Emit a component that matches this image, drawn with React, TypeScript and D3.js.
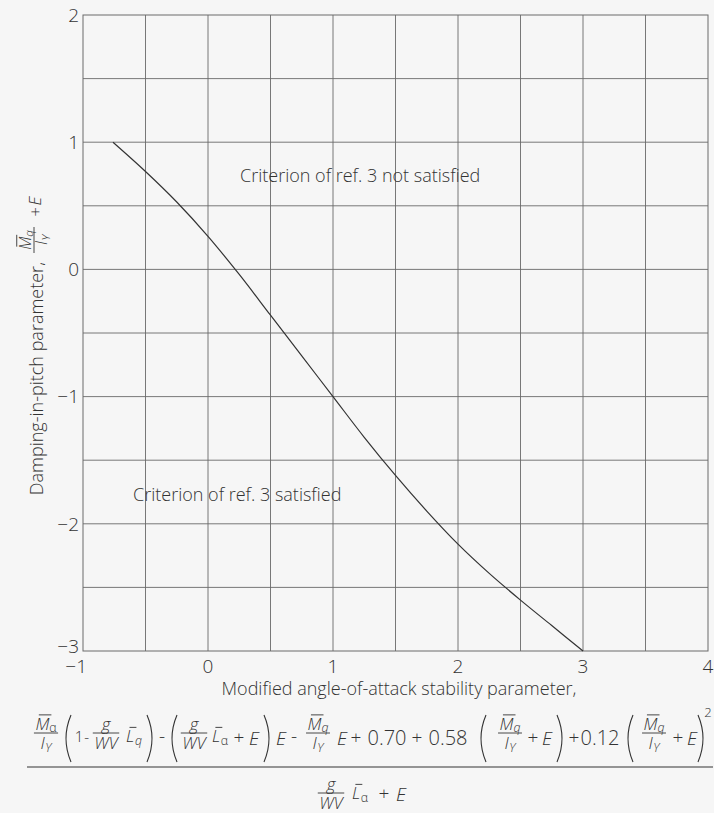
import React from 'react';
import * as d3 from 'd3';

const WIDTH = 714;
const HEIGHT = 813;

const xTickValues = [-1, 0, 1, 2, 3, 4];
const xTickLabels = ['−1', '0', '1', '2', '3', '4'];
const yTickValues = [-3, -2, -1, 0, 1, 2];
const yTickLabels = ['−3', '−2', '−1', '0', '1', '2'];
const xGridValues = [-0.5, 0, 0.5, 1, 1.5, 2, 2.5, 3, 3.5];
const yGridValues = [-2.5, -2, -1.5, -1, -0.5, 0, 0.5, 1, 1.5];

const curveX = [-0.76, -0.5, -0.25, 0, 0.25, 0.5, 0.75, 1, 1.25, 1.5, 1.75, 2, 2.25, 2.5, 2.75, 3];
const curveY = [1, 0.77, 0.53, 0.26, -0.04, -0.36, -0.68, -1, -1.32, -1.62, -1.9, -2.16, -2.39, -2.6, -2.8, -3];

const labelNotSatisfied = 'Criterion of ref. 3 not satisfied';
const labelSatisfied = 'Criterion of ref. 3 satisfied';
const xTitle = 'Modified angle-of-attack stability parameter,';
const yTitle = 'Damping-in-pitch parameter,';

const FONT_NAME = 'Open Sans';
const FONT = "'Open Sans', 'DejaVu Sans', sans-serif";
const WEIGHT = 300;
const INK = '#333333';
const GRID = '#6a6a6a';
const BG = '#f6f6f6';

let ctx: CanvasRenderingContext2D | null = null;
function measure(s: string, size: number, it = false): number {
  if (!ctx) {
    const c = document.createElement('canvas');
    ctx = c.getContext('2d');
  }
  if (!ctx) return s.length * size * 0.55;
  ctx.font = `${it ? 'italic ' : ''}${WEIGHT} ${size}px "${FONT_NAME}"`;
  return ctx.measureText(s).width;
}

type Piece = { s: string; size: number; it?: boolean; dy?: number; bar?: boolean; gap?: number };

function pieceWidth(p: Piece) {
  return measure(p.s, p.size, p.it) + (p.gap || 0);
}
function rowWidth(ps: Piece[]) {
  return ps.reduce((a, p) => a + pieceWidth(p), 0);
}

function Row({ x, y, pieces, anchor = 'middle' }: { x: number; y: number; pieces: Piece[]; anchor?: string }) {
  const total = rowWidth(pieces);
  let cx = anchor === 'middle' ? x - total / 2 : anchor === 'end' ? x - total : x;
  return (
    <g>
      {pieces.map((p, i) => {
        const px = cx;
        const w = measure(p.s, p.size, p.it);
        cx += pieceWidth(p);
        const by = y + (p.dy || 0);
        return (
          <g key={i}>
            <text
              x={px}
              y={by}
              fontSize={p.size}
              fontFamily={FONT}
              fontWeight={WEIGHT}
              fontStyle={p.it ? 'italic' : 'normal'}
              fill={INK}
            >
              {p.s}
            </text>
            {p.bar && (
              <line
                x1={px + p.size * 0.2}
                x2={px + w + p.size * 0.12}
                y1={by - p.size * 0.86}
                y2={by - p.size * 0.86}
                stroke={INK}
                strokeWidth={0.9}
              />
            )}
          </g>
        );
      })}
    </g>
  );
}

const FS = 17; // fraction part size
const MS = 19; // main size

const Mbar = (sub: string, s = FS): Piece[] => [
  { s: 'M', size: s, it: true, bar: true, gap: 0 },
  { s: sub, size: s * 0.72, it: sub === 'q', dy: s * 0.16 },
];
const IY = (s = FS): Piece[] => [
  { s: 'I', size: s, it: true, gap: 0.5 },
  { s: 'Y', size: s * 0.72, it: true, dy: s * 0.2 },
];
const Lbar = (sub: string, s = FS): Piece[] => [
  { s: 'L', size: s, it: true, bar: true, gap: 0.5 },
  { s: sub, size: s * 0.72, it: sub === 'q', dy: s * 0.16 },
];
const G = (s = FS): Piece[] => [{ s: 'g', size: s, it: true }];
const WV = (s = FS): Piece[] => [{ s: 'WV', size: s, it: true }];

function Frac({ cx, lineY, num, den, size = FS }: { cx: number; lineY: number; num: Piece[]; den: Piece[]; size?: number }) {
  const w = Math.max(rowWidth(num), rowWidth(den)) + 3;
  return (
    <g>
      <Row x={cx} y={lineY - 3.5} pieces={num} />
      <line x1={cx - w / 2} x2={cx + w / 2} y1={lineY} y2={lineY} stroke={INK} strokeWidth={0.9} />
      <Row x={cx} y={lineY + size * 0.72 + 3.5} pieces={den} />
    </g>
  );
}

function Paren({ x, left, top, bottom }: { x: number; left: boolean; top: number; bottom: number }) {
  const mid = (top + bottom) / 2;
  const d = left
    ? `M${x + 4},${top} Q${x - 6},${mid} ${x + 4},${bottom}`
    : `M${x - 4},${top} Q${x + 6},${mid} ${x - 4},${bottom}`;
  return <path d={d} fill="none" stroke={INK} strokeWidth={1.1} />;
}

const t = (s: string, size = MS, extra: Partial<Piece> = {}): Piece => ({ s, size, ...extra });

export default function App() {
  const left = 83, right = 708, top = 15, bottom = 651;
  const x = d3.scaleLinear().domain([-1, 4]).range([left, right]);
  const y = d3.scaleLinear().domain([-3, 2]).range([bottom, top]);
  const pts = curveX.map((v, i) => [v, curveY[i]] as [number, number]);
  const line = d3
    .line<[number, number]>()
    .x((d) => x(d[0]))
    .y((d) => y(d[1]))
    .curve(d3.curveCatmullRom.alpha(0.5));

  const NB = 745; // numerator main baseline
  const FL = 733; // numerator fraction line
  const PT = 715, PB = 762;
  const DB = 801;
  const DFL = 793;

  return (
    <svg
      width={WIDTH}
      height={HEIGHT}
      style={{ position: 'absolute', left: 0, top: 0, display: 'block' }}
      fontFamily={FONT}
    >
      <rect x={0} y={0} width={WIDTH} height={HEIGHT} fill={BG} />
      {xGridValues.map((v) => (
        <line key={'gx' + v} x1={x(v)} x2={x(v)} y1={top} y2={bottom} stroke={GRID} strokeWidth={0.9} />
      ))}
      {yGridValues.map((v) => (
        <line key={'gy' + v} x1={left} x2={right} y1={y(v)} y2={y(v)} stroke={GRID} strokeWidth={0.9} />
      ))}
      <rect x={left} y={top} width={right - left} height={bottom - top} fill="none" stroke={GRID} strokeWidth={1} />

      <path d={line(pts) || ''} fill="none" stroke={INK} strokeWidth={1.2} />

      {yTickValues.map((v, i) => (
        <text
          key={'yt' + v}
          x={79}
          y={y(v)}
          dy={v === -3 ? '0.12em' : '0.36em'}
          textAnchor="end"
          fontSize={19}
          fontWeight={WEIGHT}
          fill={INK}
        >
          {yTickLabels[i]}
        </text>
      ))}
      {xTickValues.map((v, i) => (
        <text
          key={'xt' + v}
          x={v < 0 ? x(v) + 4 : x(v)}
          y={673}
          textAnchor={v < 0 ? 'end' : 'middle'}
          fontSize={19}
          fontWeight={WEIGHT}
          fill={INK}
        >
          {xTickLabels[i]}
        </text>
      ))}

      <text x={x(0.256)} y={y(0.69)} fontSize={18} fontWeight={WEIGHT} fill={INK}>
        {labelNotSatisfied}
      </text>
      <text x={x(-0.6)} y={y(-1.82)} fontSize={18} fontWeight={WEIGHT} fill={INK}>
        {labelSatisfied}
      </text>

      <g transform="translate(43,0) rotate(-90)">
        <text x={-262} y={0} textAnchor="end" fontSize={18} fontWeight={WEIGHT} fill={INK}>
          {yTitle}
        </text>
        <Row x={-240} y={-12.5} pieces={Mbar('q', 16)} />
        <line x1={-253} x2={-227} y1={-9} y2={-9} stroke={INK} strokeWidth={0.9} />
        <Row x={-240} y={4} pieces={IY(16)} />
        <Row x={-212} y={-2} pieces={[t('+', 17)]} />
        <Row x={-201} y={-2} pieces={[t('E', 17, { it: true })]} />
      </g>

      <text x={399} y={695} textAnchor="middle" fontSize={18} fontWeight={WEIGHT} fill={INK}>
        {xTitle}
      </text>

      {/* numerator */}
      <Frac cx={46} lineY={FL} num={Mbar('α')} den={IY()} />
      <Paren x={67} left top={PT} bottom={PB} />
      <Row x={82} y={NB - 3} pieces={[t('1', 15, { gap: 1 }), t('-', 15)]} />
      <Frac cx={106} lineY={FL} num={G()} den={WV()} />
      <Row x={134} y={NB - 3} pieces={Lbar('q')} />
      <Paren x={151} left={false} top={PT} bottom={PB} />
      <Row x={162} y={NB - 2} pieces={[t('-', MS)]} />
      <Paren x={173} left top={PT} bottom={PB} />
      <Frac cx={194} lineY={FL} num={G()} den={WV()} />
      <Row x={220} y={NB - 3} pieces={Lbar('α')} />
      <Row x={239} y={NB - 1} pieces={[t('+', MS)]} />
      <Row x={254} y={NB} pieces={[t('E', MS, { it: true })]} />
      <Paren x={268} left={false} top={PT} bottom={PB} />
      <Row x={281} y={NB} pieces={[t('E', MS, { it: true })]} />
      <Row x={294} y={NB - 2} pieces={[t('-', MS)]} />
      <Frac cx={318} lineY={FL} num={Mbar('q')} den={IY()} />
      <Row x={342} y={NB} pieces={[t('E', MS, { it: true })]} />
      <Row x={356} y={NB - 1} pieces={[t('+', MS)]} />
      <Row x={387} y={NB} pieces={[t('0.70', MS + 1)]} />
      <Row x={417} y={NB - 1} pieces={[t('+', MS)]} />
      <Row x={448} y={NB} pieces={[t('0.58', MS + 1)]} />
      <Paren x={482} left top={PT} bottom={PB} />
      <Frac cx={510} lineY={FL} num={Mbar('q')} den={IY()} />
      <Row x={533} y={NB - 1} pieces={[t('+', MS)]} />
      <Row x={547} y={NB} pieces={[t('E', MS, { it: true })]} />
      <Paren x={561} left={false} top={PT} bottom={PB} />
      <Row x={574} y={NB - 1} pieces={[t('+', MS)]} />
      <Row x={600} y={NB} pieces={[t('0.12', MS + 1)]} />
      <Paren x={629} left top={PT} bottom={PB} />
      <Frac cx={654} lineY={FL} num={Mbar('q')} den={IY()} />
      <Row x={678} y={NB - 1} pieces={[t('+', MS)]} />
      <Row x={692} y={NB} pieces={[t('E', MS, { it: true })]} />
      <Paren x={702} left={false} top={PT} bottom={PB} />
      <Row x={708} y={717} pieces={[t('2', 13)]} />

      <line x1={27} x2={713} y1={767} y2={767} stroke={INK} strokeWidth={1.2} />

      {/* denominator */}
      <Frac cx={331} lineY={DFL} num={G()} den={WV()} />
      <Row x={360} y={DB - 2} pieces={Lbar('α')} />
      <Row x={384} y={DB - 1} pieces={[t('+', MS)]} />
      <Row x={401} y={DB} pieces={[t('E', MS, { it: true })]} />
    </svg>
  );
}
